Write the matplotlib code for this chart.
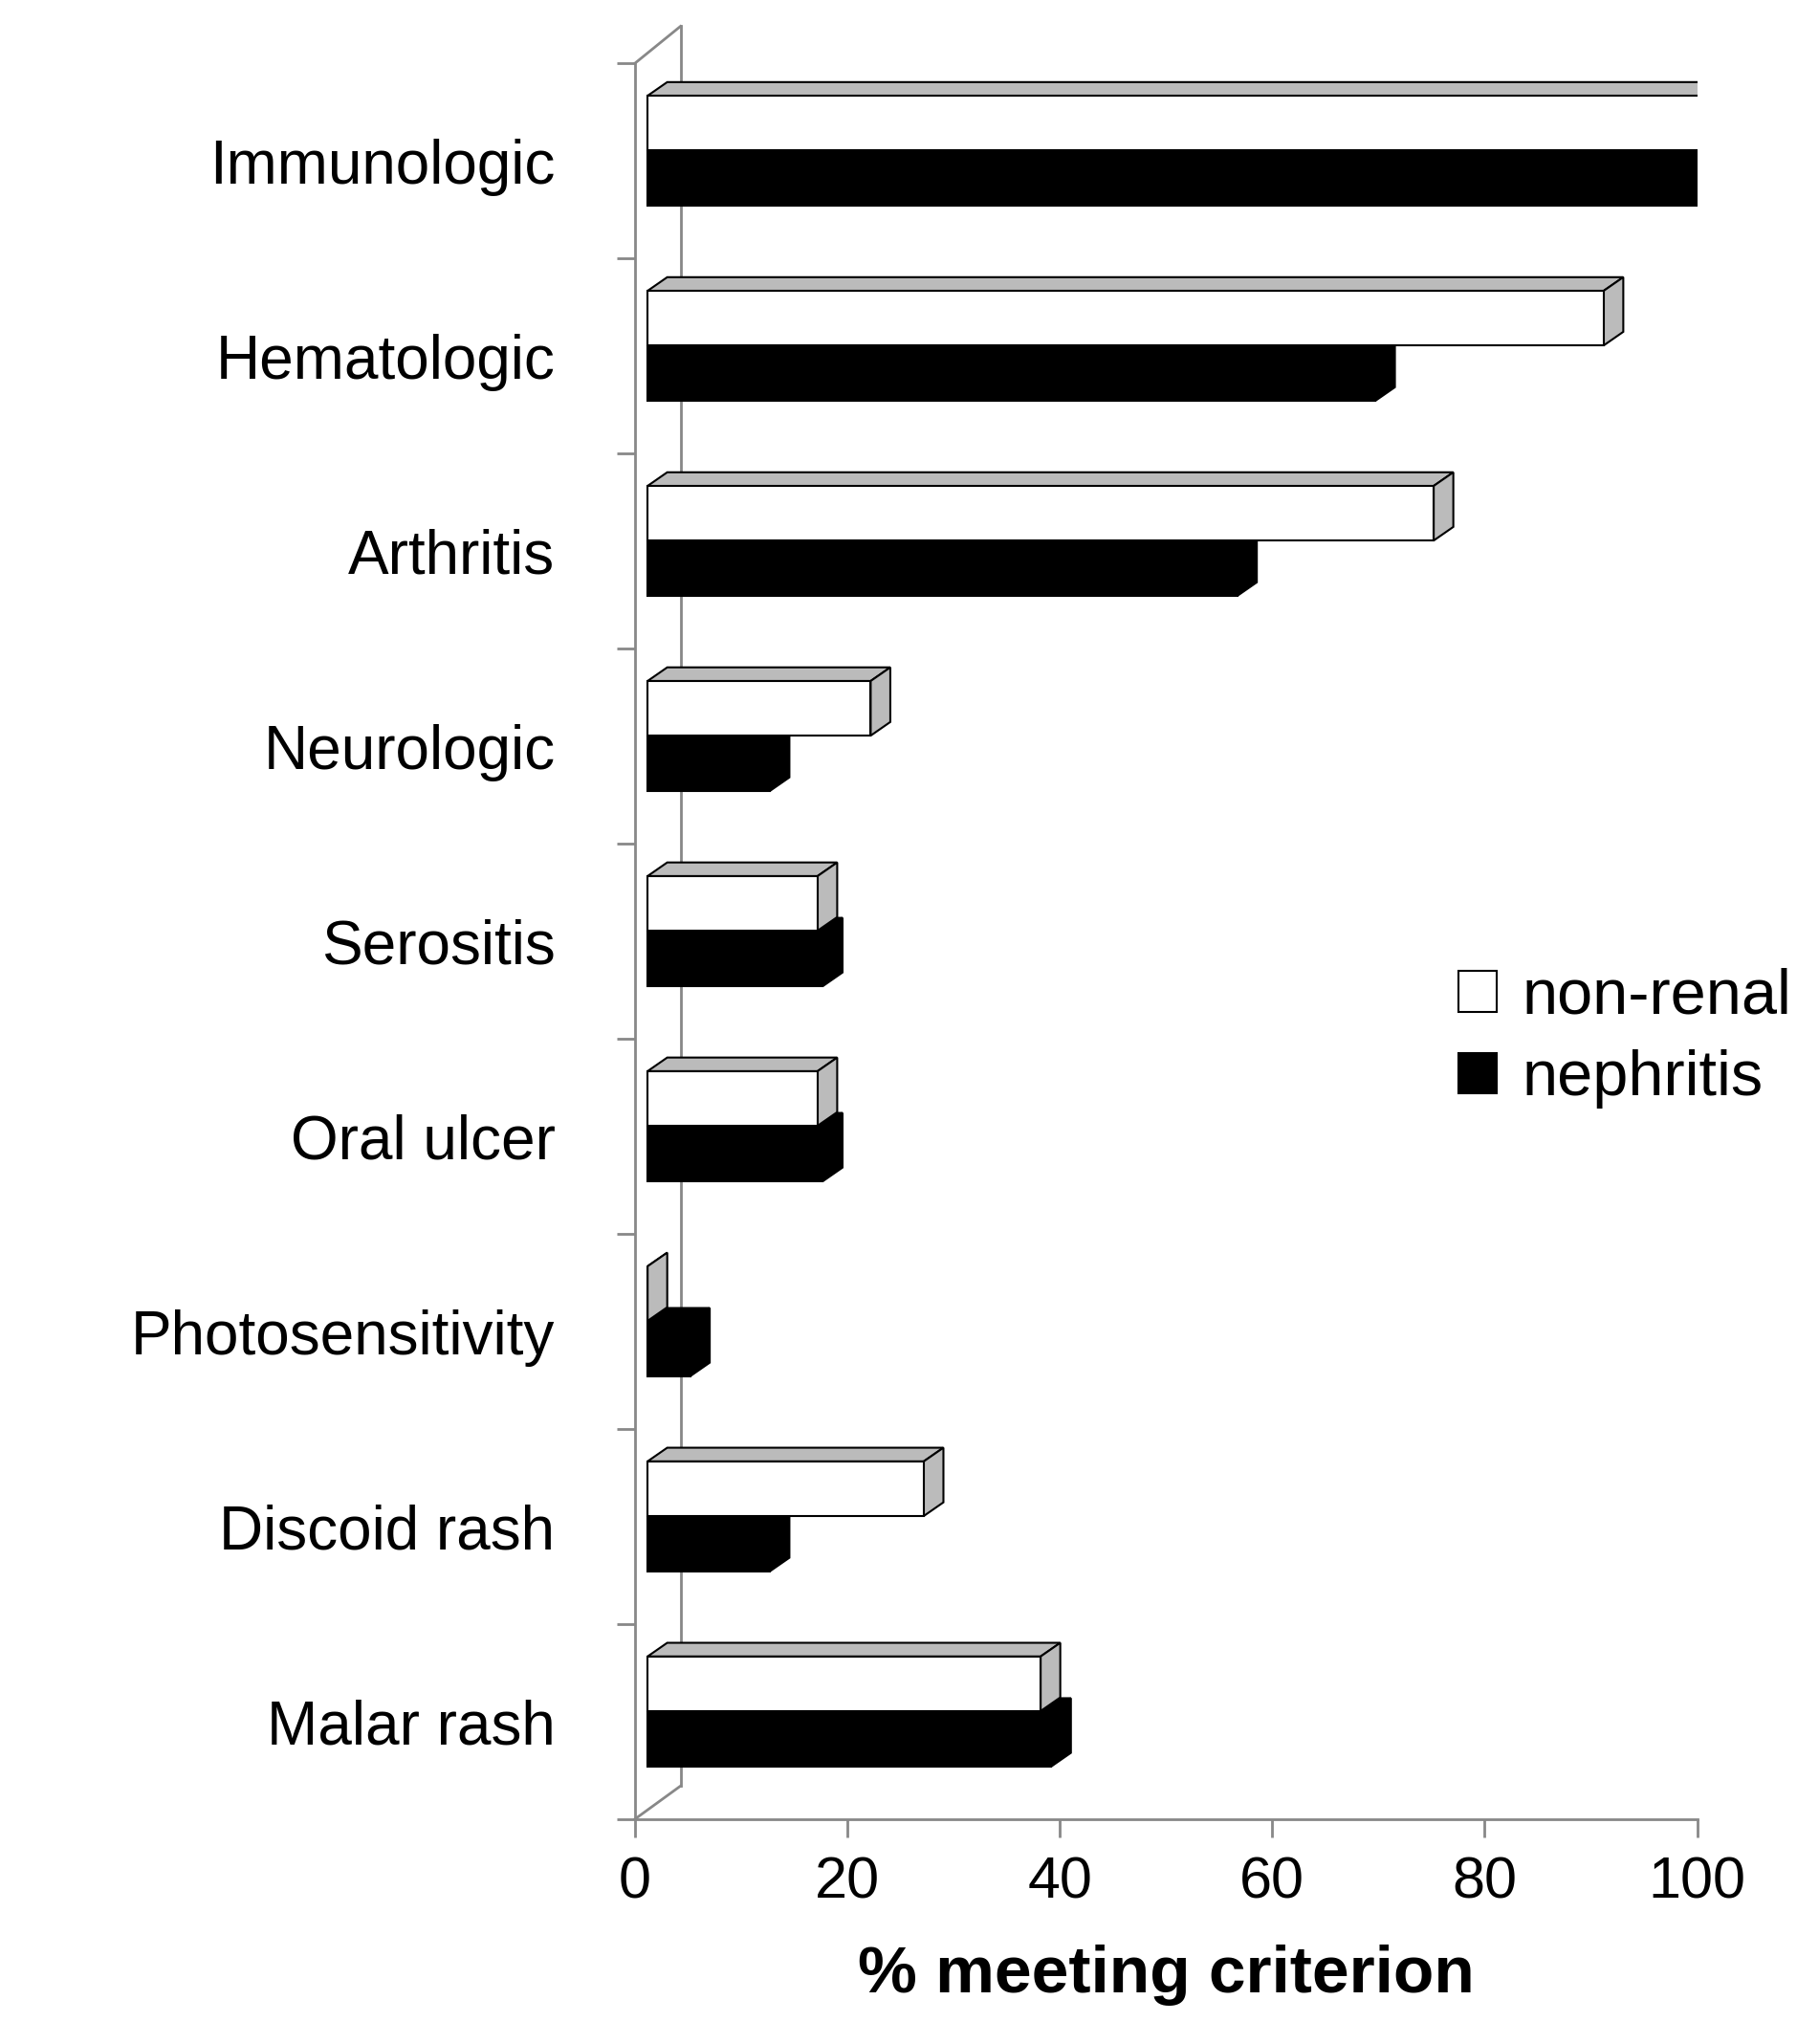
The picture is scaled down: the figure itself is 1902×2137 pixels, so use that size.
import matplotlib.pyplot as plt
from matplotlib.patches import Polygon
import numpy as np

plt.rcParams['font.family'] = ['Liberation Sans', 'DejaVu Sans']

categories = ['Malar rash', 'Discoid rash', 'Photosensitivity', 'Oral ulcer',
              'Serositis', 'Neurologic', 'Arthritis', 'Hematologic', 'Immunologic']
non_renal = [37, 26, 0, 16, 16, 21, 74, 90, 100]
nephritis = [38, 11.5, 4, 16.5, 16.5, 11.5, 55.5, 68.5, 100.5]

fig = plt.figure(figsize=(19.02, 21.37), dpi=100)
ax = fig.add_axes([0.349, 0.110, 0.584, 0.859])
ax.set_xlim(0, 100)
ax.set_ylim(-0.5, 8.5)

h = 0.28
x0 = 1.2    # bars start slightly right of the wall
dx, dy = 1.85, 0.07  # depth offset of bar top/side
y = np.arange(len(categories))


def bar3d(v, yb, face):
    x1 = x0 + v
    ax.add_patch(plt.Rectangle((x0, yb), v, h, facecolor=face, edgecolor='black', lw=1.5, zorder=3))
    top = [(x0, yb + h), (x0 + dx, yb + h + dy), (x1 + dx, yb + h + dy), (x1, yb + h)]
    side = [(x1, yb), (x1 + dx, yb + dy), (x1 + dx, yb + h + dy), (x1, yb + h)]
    c = 'black' if face == 'black' else '#bbbbbb'
    ax.add_patch(Polygon(top, closed=True, facecolor=c, edgecolor='black', lw=1.5, zorder=2))
    ax.add_patch(Polygon(side, closed=True, facecolor=c, edgecolor='black', lw=1.5, zorder=2))


for i in range(len(categories)):
    bar3d(nephritis[i], y[i] - 0.23, 'black')
    bar3d(non_renal[i], y[i] + 0.054, 'white')

# pseudo 3D frame
wall = 4.3
gc = '#888888'
ax.plot([wall, wall], [-0.5 + 0.17, 8.5 + 0.19], color=gc, lw=2, clip_on=False, zorder=1)
ax.plot([0, wall], [-0.5, -0.5 + 0.17], color=gc, lw=2, clip_on=False, zorder=1)
ax.plot([0, wall], [8.5, 8.5 + 0.19], color=gc, lw=2, clip_on=False, zorder=1)

for s in ['top', 'right']:
    ax.spines[s].set_visible(False)
for s in ['left', 'bottom']:
    ax.spines[s].set_color(gc)
    ax.spines[s].set_linewidth(2)

ax.set_yticks(y)
ax.set_yticklabels(categories, fontsize=46)
ax.set_yticks(np.arange(-0.5, 9, 1), minor=True)
ax.tick_params(axis='y', which='major', length=0, pad=60)
ax.tick_params(axis='y', which='minor', length=14, width=2, color=gc)
ax.set_xticks(np.arange(0, 101, 20))
ax.tick_params(axis='x', labelsize=44, length=14, width=2, color=gc, pad=14)
ax.set_xlabel('% meeting criterion', fontsize=50, fontweight='bold', labelpad=25)

handles = [plt.Rectangle((0, 0), 1, 1, facecolor='white', edgecolor='black', lw=1.5),
           plt.Rectangle((0, 0), 1, 1, facecolor='black', edgecolor='black', lw=1.5)]
fig.legend(handles, ['non-renal', 'nephritis'], loc='center left',
           bbox_to_anchor=(0.77, 0.492), frameon=False, fontsize=48,
           handlelength=0.6, handleheight=0.6, handletextpad=0.4, labelspacing=0.35)

fig.savefig('out.png', dpi=100)
